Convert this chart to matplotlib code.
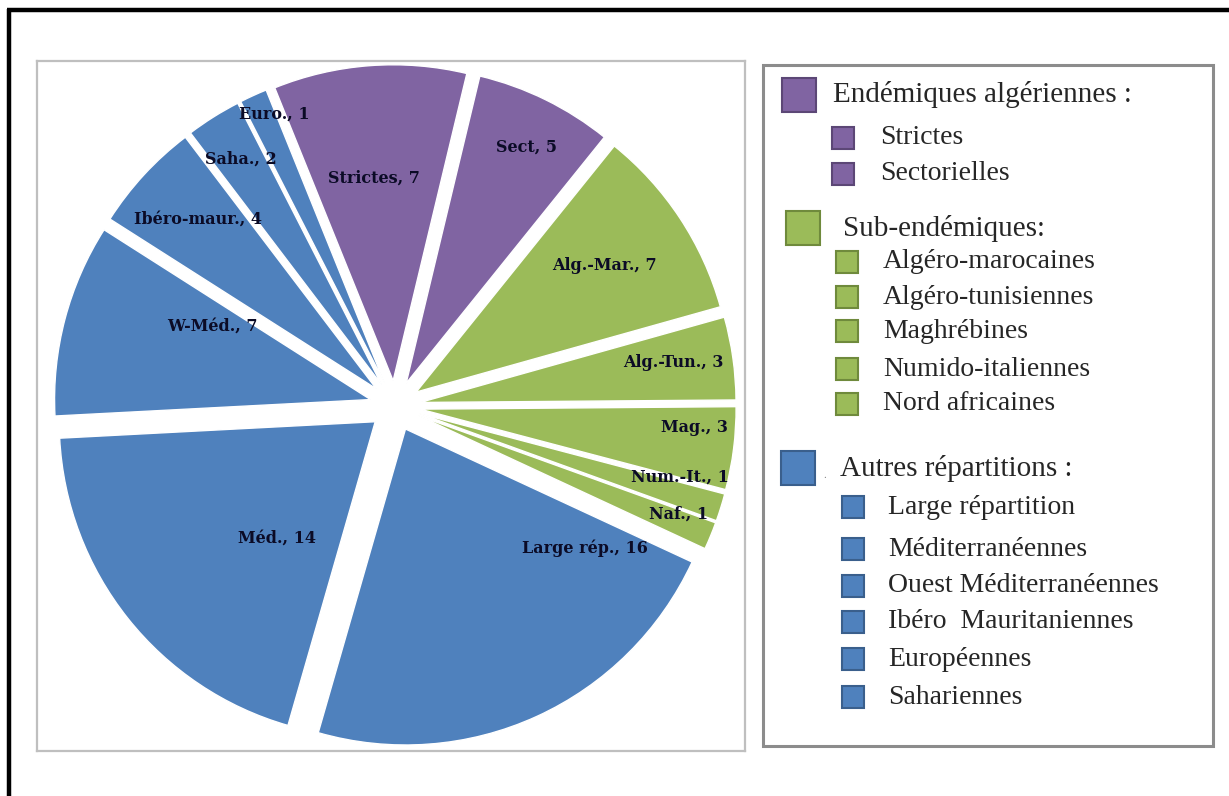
import matplotlib.pyplot as plt
from matplotlib.patches import Rectangle
import numpy as np

# Slice data (clockwise from the top)
slice_labels = ["Strictes", "Sect", "Alg.-Mar.", "Alg.-Tun.", "Mag.", "Num.-It.", "Naf.",
                "Large rép.", "Méd.", "W-Méd.", "Ibéro-maur.", "Saha.", "Euro."]
slice_values = [7, 5, 7, 3, 3, 1, 1, 16, 14, 7, 4, 2, 1]
slice_groups = [0, 0, 1, 1, 1, 1, 1, 2, 2, 2, 2, 2, 2]

# Legend data
group_names = ["Endémiques algériennes :", "Sub-endémiques:", "Autres répartitions :"]
group_items = [
    ["Strictes", "Sectorielles"],
    ["Algéro-marocaines", "Algéro-tunisiennes", "Maghrébines",
     "Numido-italiennes", "Nord africaines"],
    ["Large répartition", "Méditerranéennes", "Ouest Méditerranéennes",
     "Ibéro  Mauritaniennes", "Européennes", "Sahariennes"],
]

# Styles
GROUP_COLORS = ["#8064A2", "#9BBB59", "#4F81BD"]
GROUP_EDGES = ["#5C4776", "#6F8A3C", "#3A5F8C"]
EXPLODE = 0.08
START_ANGLE = 112
LABEL_COLOR = "#0B0B26"
LEGEND_TEXT = "#262626"

# label placement (angle in degrees, distance from pie centre)
label_polar = [(95.3, 0.725), (63, 0.92), (33.9, 0.80), (8.8, 0.89), (-4.2, 0.95),
               (-14, 0.93), (-20.9, 0.96), (-36.9, 0.75), (228.2, 0.56),
               (156.3, 0.63), (136.5, 0.86), (122, 0.92), (112.4, 1.0)]

W, H = 1229, 796
fig = plt.figure(figsize=(W / 100, H / 100), dpi=100)
fig.patch.set_facecolor("white")

# ---- Pie ----
# pie box in pixels: x 37..745, y 61..751, centre (395, 406), 316 px per unit
px = 316.0
cx, cy = 395, 406
ax = fig.add_axes([37 / W, 1 - 751 / H, 708 / W, 690 / H])
colors = [GROUP_COLORS[g] for g in slice_groups]
ax.pie(
    slice_values,
    colors=colors,
    startangle=START_ANGLE,
    counterclock=False,
    explode=[EXPLODE] * len(slice_values),
    wedgeprops=dict(edgecolor="white", linewidth=1),
)
for name, val, (ang, dist) in zip(slice_labels, slice_values, label_polar):
    a = np.deg2rad(ang)
    ax.text(dist * np.cos(a), dist * np.sin(a), f"{name}, {val}",
            ha="center", va="center", fontsize=11.5, fontweight="heavy",
            family="DejaVu Serif", color=LABEL_COLOR)

ax.set_aspect("auto")
ax.set_xlim(-(cx - 37) / px, (745 - cx) / px)
ax.set_ylim(-(751 - cy) / px, (cy - 61) / px)
ax.set_frame_on(True)
ax.set_xticks([])
ax.set_yticks([])
for sp in ax.spines.values():
    sp.set_color("#BFBFBF")
    sp.set_linewidth(1.6)

# ---- Overlay: outer border + legend ----
ov = fig.add_axes([0, 0, 1, 1], zorder=-1)
ov.set_xlim(0, W)
ov.set_ylim(H, 0)
ov.axis("off")

# black outer frame (top and left visible)
ov.plot([7, W], [10, 10], color="black", linewidth=3.2, solid_capstyle="butt")
ov.plot([8.5, 8.5], [8.5, H], color="black", linewidth=3.2, solid_capstyle="butt")

# legend box
ov.add_patch(Rectangle((763, 65), 450, 681, facecolor="white",
                       edgecolor="#8C8C8C", linewidth=2.2))

header_y = [95, 228, 468]
header_sq_x = [782, 786, 781]
header_txt_x = [833, 843, 840]
item_y = [[138, 174], [262, 297, 331, 369, 404], [507, 549, 586, 622, 659, 697]]
item_sq_x = [832, 836, 842]
item_txt_x = [880, 883, 888]

for g, name in enumerate(group_names):
    hs = 34
    ov.add_patch(Rectangle((header_sq_x[g], header_y[g] - hs / 2), hs, hs,
                           facecolor=GROUP_COLORS[g], edgecolor=GROUP_EDGES[g],
                           linewidth=1.5))
    ov.text(header_txt_x[g], header_y[g], name, ha="left", va="center",
            fontsize=21, family="Liberation Serif", color=LEGEND_TEXT)
    for item, yy in zip(group_items[g], item_y[g]):
        s = 22
        ov.add_patch(Rectangle((item_sq_x[g], yy - s / 2), s, s,
                               facecolor=GROUP_COLORS[g], edgecolor=GROUP_EDGES[g],
                               linewidth=1.5))
        ov.text(item_txt_x[g], yy, item, ha="left", va="center",
                fontsize=20, family="Liberation Serif", color=LEGEND_TEXT)

# stray dot next to the last header
ov.text(825, 476, ".", ha="center", va="center", fontsize=8,
        family="Liberation Serif", color="#808080")

fig.savefig("out.png", dpi=100)
